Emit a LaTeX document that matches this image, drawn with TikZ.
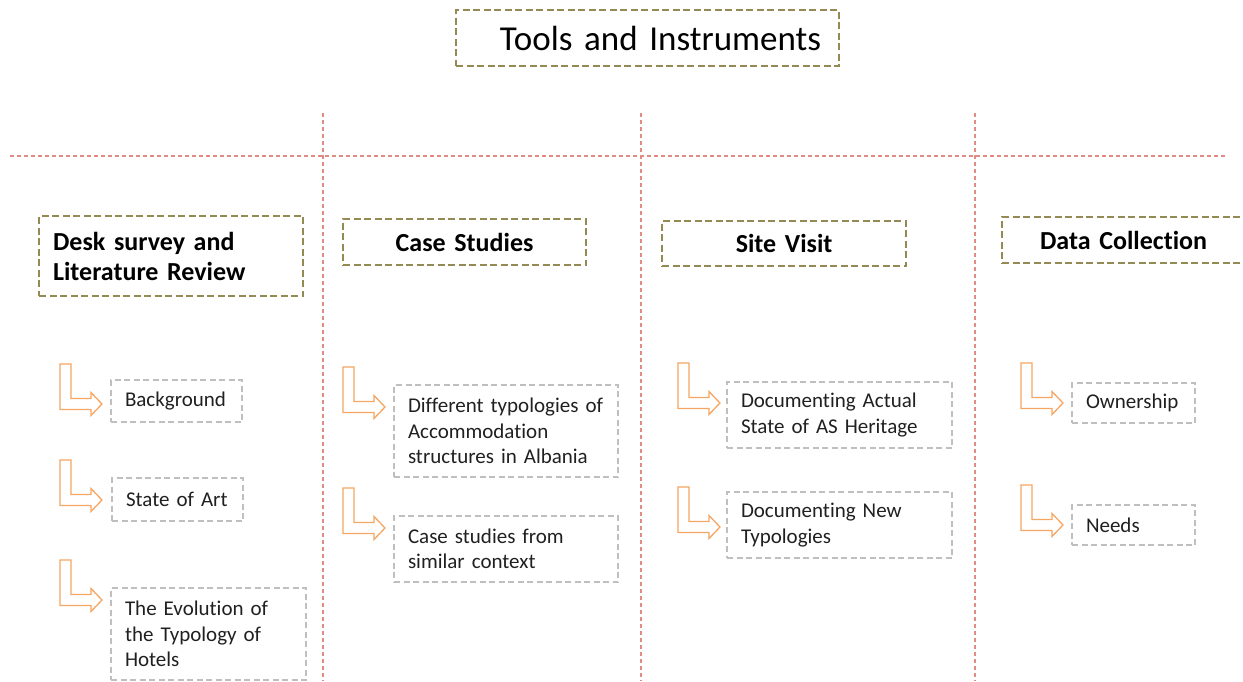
\documentclass[tikz,border=0pt]{standalone}
\usepackage{fontspec}
\setmainfont{Carlito}[Ligatures=NoCommon]
\definecolor{hdolive}{HTML}{948A54}
\definecolor{boxgray}{HTML}{BFBFBF}
\definecolor{linered}{HTML}{DE8C84}
\definecolor{arrcol}{HTML}{F5A663}
\definecolor{bodytext}{HTML}{202020}
\tikzset{
  headbox/.style={draw=hdolive, line width=2.2pt, dash pattern=on 7pt off 3.5pt,
    anchor=north west, inner ysep=0pt, inner xsep=14pt,
    font=\fontsize{26}{30}\selectfont\bfseries, text=black},
  itembox/.style={draw=boxgray, line width=2pt, dash pattern=on 6pt off 3.5pt,
    anchor=north west, inner ysep=0pt, inner xsep=14pt, align=left,
    font=\fontsize{21}{25.5}\selectfont, text=bodytext},
  sepline/.style={draw=linered, line width=1.4pt, dash pattern=on 4pt off 3pt},
  bentarr/.pic={\draw[arrcol, line width=1.3pt, line join=miter]
      (-42,-40) -- (-31,-40) -- (-31,-5.5) -- (-11,-5.5) -- (-11,-11.5) -- (0,0)
      -- (-11,11.5) -- (-11,5.5) -- (-42,5.5) -- cycle;}
}
\begin{document}
\begin{tikzpicture}[x=1pt,y=-1pt]
\useasboundingbox (0,0) rectangle (1243,681);
% separator lines
\coordinate (hl) at (10,156);
\coordinate (hr) at (1227,156);
\coordinate (v1t) at (323,113); \coordinate (v1b) at (323,681);
\coordinate (v2t) at (641,113); \coordinate (v2b) at (641,681);
\coordinate (v3t) at (975,113); \coordinate (v3b) at (975,681);
\draw[sepline] (hl) -- (hr);
\draw[sepline] (v1t) -- (v1b);
\draw[sepline] (v2t) -- (v2b);
\draw[sepline] (v3t) -- (v3b);
% title
\node[headbox, font=\fontsize{35}{40}\selectfont, align=right, inner xsep=18pt,
  text width=347pt, minimum width=383pt, minimum height=56pt] (title) at (455,9) {Tools and Instruments};
% headings
\node[headbox, align=left, text width=236pt, minimum width=264pt, minimum height=80pt] (desk) at (38,215) {Desk survey and\\Literature Review};
\node[headbox, align=center, text width=215pt, minimum width=243pt, minimum height=46pt] (case) at (342,218) {Case Studies};
\node[headbox, align=center, text width=216pt, minimum width=244pt, minimum height=45pt] (site) at (661,220) {Site Visit};
\node[headbox, align=center, text width=215pt, minimum width=243pt, minimum height=46pt] (data) at (1001,216) {Data Collection};
% items column 1
\node[itembox, text width=103pt, minimum width=131pt, minimum height=42pt] (bg) at (110,379) {Background};
\node[itembox, text width=103pt, minimum width=131pt, minimum height=43pt] (soa) at (111,477) {State of Art};
\node[itembox, text width=167pt, minimum width=195pt, minimum height=92pt] (evo) at (110,587) {The Evolution of\\the Typology of\\Hotels};
% column 2
\node[itembox, text width=196pt, minimum width=224pt, minimum height=92pt] (diff) at (393,384) {Different typologies of\\Accommodation\\structures in Albania};
\node[itembox, text width=196pt, minimum width=224pt, minimum height=66pt] (cs) at (393,515) {Case studies from\\similar context};
% column 3
\node[itembox, text width=197pt, minimum width=225pt, minimum height=66pt] (doca) at (726,381) {Documenting Actual\\State of AS Heritage};
\node[itembox, text width=197pt, minimum width=225pt, minimum height=66pt] (docn) at (726,491) {Documenting New\\Typologies};
% column 4
\node[itembox, text width=95pt, minimum width=123pt, minimum height=40pt] (own) at (1071,382) {Ownership};
\node[itembox, text width=95pt, minimum width=123pt, minimum height=40pt] (needs) at (1071,504) {Needs};
% bent arrows
\pic at (102,404) {bentarr};
\pic at (102,500) {bentarr};
\pic at (102,600) {bentarr};
\pic at (385,407) {bentarr};
\pic at (385,528) {bentarr};
\pic at (720,403) {bentarr};
\pic at (720,527) {bentarr};
\pic at (1063,403) {bentarr};
\pic at (1063,525) {bentarr};
\end{tikzpicture}
\end{document}
